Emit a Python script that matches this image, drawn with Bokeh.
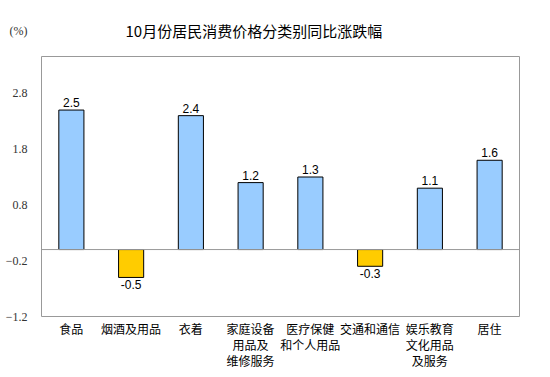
from bokeh.plotting import figure
from bokeh.models import FactorRange, Range1d, Span, FixedTicker, ColumnDataSource
from bokeh.core.properties import value
from bokeh.embed import file_html
from bokeh.resources import INLINE

categories = ["食品", "烟酒及用品", "衣着", "家庭设备\n用品及\n维修服务", "医疗保健\n和个人用品",
              "交通和通信", "娱乐教育\n文化用品\n及服务", "居住"]
values = [2.5, -0.5, 2.4, 1.2, 1.3, -0.3, 1.1, 1.6]
y_ticks = [-1.2, -0.2, 0.8, 1.8, 2.8]
y_min, y_max = -1.2, 3.46
title_text = "10月份居民消费价格分类别同比涨跌幅"
unit_text = "(%)"

colors = ["#99CCFF" if v >= 0 else "#FFCC00" for v in values]
src = ColumnDataSource(dict(x=categories, top=values, color=colors))
pos_src = ColumnDataSource(dict(x=[c for c, v in zip(categories, values) if v >= 0],
                                y=[v for v in values if v >= 0],
                                label=["%.1f" % v for v in values if v >= 0]))
neg_src = ColumnDataSource(dict(x=[c for c, v in zip(categories, values) if v < 0],
                                y=[v for v in values if v < 0],
                                label=["%.1f" % v for v in values if v < 0]))

p = figure(width=550, height=377, x_range=FactorRange(*categories), y_range=Range1d(y_min, y_max),
           output_backend="svg", toolbar_location=None, title=title_text,
           min_border_left=41, min_border_right=31, min_border_top=56, min_border_bottom=61)
p.title.align = "left"
p.title.offset = 84
p.title.text_font = "Noto Sans CJK SC"
p.title.text_font_size = "15px"
p.title.text_font_style = "normal"
p.title.text_color = "black"
p.title.standoff = 31

p.vbar(x="x", top="top", bottom=0, width=0.42, fill_color="color", line_color="black", line_width=1, source=src)

p.xgrid.visible = False
p.ygrid.visible = False
p.outline_line_color = "#999999"
p.outline_line_width = 1

p.yaxis.ticker = FixedTicker(ticks=y_ticks + [y_max])
p.yaxis.major_label_overrides = {y_max: unit_text + "\n\n\n"}
p.yaxis.axis_line_color = None
p.yaxis.major_tick_line_color = None
p.yaxis.minor_tick_line_color = None
p.yaxis.major_label_text_font = "Liberation Serif"
p.yaxis.major_label_text_font_size = "12px"
p.yaxis.major_label_text_color = "#333333"
p.yaxis.major_label_standoff = 8

p.xaxis.axis_line_color = None
p.xaxis.major_tick_line_color = None
p.xaxis.major_label_text_font = "Noto Sans CJK SC"
p.xaxis.major_label_text_font_size = "12px"
p.xaxis.major_label_text_color = "black"
p.xaxis.major_label_standoff = -3
p.xaxis.major_label_text_line_height = 0.95

p.add_layout(Span(location=0, dimension="width", line_color="#999999", line_width=1))

p.text(x="x", y="y", text="label", source=pos_src, text_align="center", text_baseline="bottom",
       y_offset=-3, text_font_size="12px", text_font=value("Liberation Sans"), text_color="black")
p.text(x="x", y="y", text="label", source=neg_src, text_align="center", text_baseline="top",
       y_offset=3, text_font_size="12px", text_font=value("Liberation Sans"), text_color="black")

open("out.html", "w").write(file_html(p, INLINE))
